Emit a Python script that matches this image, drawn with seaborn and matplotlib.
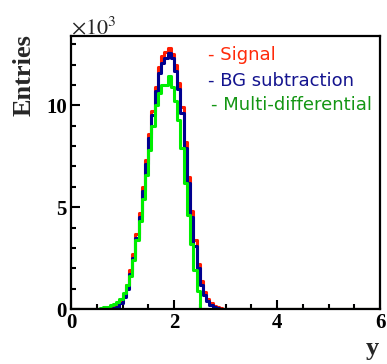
import numpy as np
import pandas as pd
import matplotlib
matplotlib.use("Agg")
import matplotlib.pyplot as plt
from matplotlib.ticker import MultipleLocator
import seaborn as sns

# Histogram binning of the rapidity y: 96 bins from 0 to 6
y_min, y_max, n_bins = 0.0, 6.0, 96
first_bin = 8  # index of the first bin listed below; all other bins are empty

# Bin contents (entries) starting at first_bin
signal = [0, 0, 0, 0, 50, 100, 200, 450, 750, 1200, 1900, 2700, 3700, 4700,
          6000, 7300, 8600, 9700, 10900, 11900, 12400, 12600, 12800, 12500,
          12000, 11100, 9900, 8200, 6500, 4800, 3400, 2200, 1400, 850, 500,
          300, 150, 80, 30]
bg_subtraction = [0, 0, 0, 0, 20, 50, 120, 300, 600, 1000, 1700, 2500, 3500,
                  4500, 5800, 7100, 8400, 9500, 10700, 11600, 12100, 12300,
                  12550, 12300, 11700, 10800, 9600, 7900, 6200, 4500, 3100,
                  2000, 1200, 700, 400, 220, 100, 50, 20]
multi_differential = [20, 40, 80, 120, 180, 250, 350, 500, 800, 1200, 1600,
                      2400, 3400, 4300, 5400, 6600, 7800, 9000, 10000, 10600,
                      11000, 11000, 11450, 10900, 10200, 9300, 7900, 6200,
                      4600, 3200, 1900, 900]

labels = ["Signal", "BG subtraction", "Multi-differential"]
line_colors = ["#ff1a00", "#00008f", "#00ee00"]
text_colors = ["#ff2a0a", "#14148f", "#149614"]

edges = np.linspace(y_min, y_max, n_bins + 1)
centers = 0.5 * (edges[:-1] + edges[1:])


def full_series(values):
    out = np.zeros(n_bins)
    out[first_bin:first_bin + len(values)] = values
    return out


frames = []
for name, vals in zip(labels, [signal, bg_subtraction, multi_differential]):
    frames.append(pd.DataFrame({"y": centers,
                                "entries_k": full_series(vals) / 1e3,
                                "sample": name}))
df = pd.concat(frames, ignore_index=True)

sns.set_style("white")
plt.rcParams["font.family"] = ["Liberation Serif", "DejaVu Serif"]
plt.rcParams["mathtext.fontset"] = "stix"

fig = plt.figure(figsize=(3.87, 3.64), dpi=100)
ax = fig.add_axes([0.1835, 0.151, 0.7985, 0.750])

for name, col in zip(labels, line_colors):
    sub = df[df["sample"] == name]
    sns.histplot(data=sub, x="y", weights="entries_k", bins=n_bins,
                 binrange=(y_min, y_max), element="step", fill=False,
                 color=col, linewidth=2.2, ax=ax)

ax.set_xlim(y_min, y_max)
ax.set_ylim(0, 13.4)
ax.xaxis.set_major_locator(MultipleLocator(2))
ax.xaxis.set_minor_locator(MultipleLocator(0.5))
ax.yaxis.set_major_locator(MultipleLocator(5))
ax.yaxis.set_minor_locator(MultipleLocator(1))
ax.tick_params(which="both", direction="in", top=False, right=False,
               bottom=True, left=True, width=1.5, colors="black")
ax.tick_params(which="major", length=6.5, pad=3, labelsize=15)
ax.tick_params(which="minor", length=3.5)
for lab in ax.get_xticklabels() + ax.get_yticklabels():
    lab.set_fontweight("bold")
for sp in ax.spines.values():
    sp.set_visible(True)
    sp.set_color("black")
    sp.set_linewidth(1.6)

ax.set_xlabel("")
ax.set_ylabel("")
fig.text(0.062, 0.905, "Entries", rotation=90, ha="center", va="top",
         fontsize=19, fontweight="bold")
fig.text(0.963, 0.012, "y", ha="center", va="bottom", fontsize=19,
         fontweight="bold")
fig.text(0.183, 0.893, r"$\times10^{3}$", ha="left", va="bottom",
         fontsize=16)

# Legend drawn as coloured text entries
legend_y = [0.836, 0.764, 0.697]
legend_x = [0.537, 0.537, 0.545]
for name, col, yy, xx in zip(labels, text_colors, legend_y, legend_x):
    fig.text(xx, yy, "- " + name, color=col, ha="left", va="baseline",
             fontsize=13, family=["DejaVu Sans"])

fig.savefig("out.png", dpi=100)
